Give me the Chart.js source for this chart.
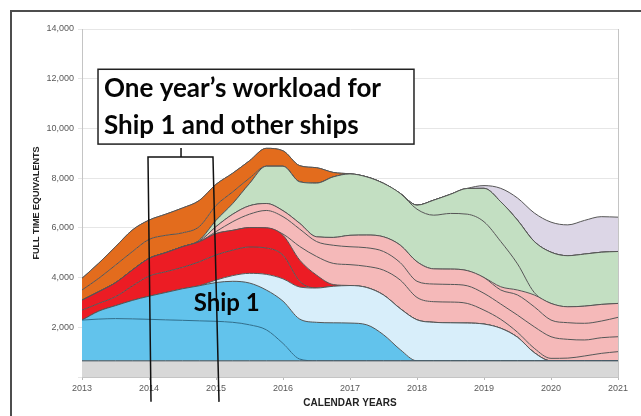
<!DOCTYPE html>
<html>
<head>
<meta charset="utf-8">
<title>Full time equivalents by calendar year</title>
<script src="https://cdn.jsdelivr.net/npm/chart.js@4.4.1/dist/chart.umd.min.js"></script>
<style>
  html, body { margin: 0; padding: 0; background: #fff; }
  #wrap { width: 641px; height: 416px; }
</style>
</head>
<body>
<div id="wrap"><canvas id="fteChart" width="641" height="416"></canvas></div>
<script>
// quarter-year sample points
const years = [2013, 2013.25, 2013.5, 2013.75, 2014, 2014.25, 2014.5, 2014.75, 2015, 2015.25, 2015.5, 2015.75,
    2016, 2016.25, 2016.5, 2016.75, 2017, 2017.25, 2017.5, 2017.75, 2018, 2018.25, 2018.5, 2018.75,
    2019, 2019.25, 2019.5, 2019.75, 2020, 2020.25, 2020.5, 2020.75, 2021];

const yTicks = [0, 2000, 4000, 6000, 8000, 10000, 12000, 14000];

// each array is the top edge of a band (cumulative FTE)
const greyTop = [650, 650, 650, 650, 650, 650, 650, 650, 650, 650, 650, 650, 650, 650, 650, 650, 650,
    650, 650, 650, 650, 650, 650, 650, 650, 650, 650, 650, 650, 650, 650, 650, 650];
const blueLine = [2290, 2330, 2350, 2340, 2320, 2300, 2280, 2260, 2240, 2200, 2100, 1900, 1350, 720, 650, 650, 650,
    650, 650, 650, 650, 650, 650, 650, 650, 650, 650, 650, 650, 650, 650, 650, 650];
const blueTop = [2290, 2650, 2870, 3080, 3250, 3400, 3550, 3670, 3800, 3850, 3780, 3500, 3050, 2330, 2200, 2180, 2170,
    2100, 1700, 1100, 650, 650, 650, 650, 650, 650, 650, 650, 650, 650, 650, 650, 650];
const lightBlueTop = [2290, 2650, 2870, 3080, 3250, 3400, 3550, 3670, 3900, 4080, 4170, 4130, 3950, 3620, 3580, 3650, 3680,
    3600, 3300, 2750, 2300, 2200, 2180, 2170, 2130, 1960, 1600, 980, 650, 650, 650, 650, 650];
const redMid = [2690, 2960, 3230, 3660, 4060, 4235, 4410, 4635, 4910, 5105, 5230, 5190, 4900, 3850, 3580, 3650, 3680,
    3600, 3300, 2750, 2300, 2200, 2180, 2170, 2130, 1960, 1600, 980, 650, 650, 650, 650, 650];
const redTop = [3090, 3430, 3790, 4300, 4770, 5000, 5240, 5440, 5770, 5900, 6010, 6000, 5700, 4700, 4100, 3720, 3680,
    3600, 3300, 2750, 2300, 2200, 2180, 2170, 2130, 1960, 1600, 980, 650, 650, 650, 650, 650];
const pinkLine1 = [3090, 3430, 3790, 4300, 4770, 5000, 5240, 5440, 5770, 5900, 6010, 6000, 5750, 5250, 4850, 4570, 4520,
    4450, 4300, 3900, 3200, 3030, 3015, 2960, 2690, 2320, 1800, 1155, 750, 760, 845, 950, 1020];
const pinkLine2 = [3090, 3430, 3790, 4300, 4770, 5000, 5240, 5440, 5850, 6250, 6550, 6700, 6450, 5950, 5450, 5300, 5240,
    5200, 5050, 4600, 3850, 3740, 3725, 3670, 3365, 2935, 2490, 2020, 1620, 1515, 1490, 1580, 1620];
const pinkLine3 = [3090, 3430, 3790, 4300, 4770, 5000, 5240, 5460, 6050, 6550, 6890, 6980, 6690, 6180, 5640, 5615, 5700,
    5710, 5640, 5305, 4635, 4350, 4340, 4280, 4000, 3500, 3300, 2825, 2290, 2185, 2160, 2250, 2400];
const pinkTop = [3090, 3430, 3790, 4300, 4770, 5000, 5240, 5460, 6050, 6550, 6890, 6980, 6690, 6180, 5640, 5615, 5700,
    5710, 5640, 5305, 4635, 4350, 4340, 4280, 4000, 3630, 3500, 3300, 2960, 2825, 2850, 2920, 2960];
const greenMid = [3090, 3430, 3790, 4300, 4770, 5000, 5240, 5500, 6300, 6980, 7785, 8480, 8480, 7850, 7800, 8050, 8170,
    8050, 7790, 7385, 6750, 6510, 6580, 6550, 6245, 5450, 4550, 3400, 2960, 2825, 2850, 2920, 2960];
const greenTop = [3090, 3430, 3790, 4300, 4770, 5000, 5240, 5500, 6300, 6980, 7785, 8480, 8480, 7850, 7800, 8050, 8170,
    8050, 7790, 7385, 6914, 7115, 7350, 7585, 7590, 7050, 6310, 5450, 5020, 4880, 4945, 5020, 5050];
const orangeMid = [3500, 3970, 4500, 5040, 5535, 5700, 5800, 6050, 6900, 7450, 8000, 8480, 8480, 7850, 7800, 8050, 8170,
    8050, 7790, 7385, 6914, 7115, 7350, 7585, 7590, 7050, 6310, 5450, 5020, 4880, 4945, 5020, 5050];
const orangeTop = [3970, 4580, 5240, 5910, 6310, 6550, 6800, 7100, 7750, 8200, 8700, 9200, 9100, 8500, 8420, 8230, 8170,
    8050, 7790, 7385, 6914, 7115, 7350, 7585, 7590, 7050, 6310, 5450, 5020, 4880, 4945, 5020, 5050];
const purpleTop = [3970, 4580, 5240, 5910, 6310, 6550, 6800, 7100, 7750, 8200, 8700, 9200, 9100, 8500, 8420, 8230, 8170,
    8050, 7790, 7385, 6914, 7115, 7350, 7585, 7700, 7590, 7200, 6600, 6230, 6120, 6300, 6450, 6430];

const GREY = '#d8d8d8';
const BLUE = '#62c3ec';
const LIGHT_BLUE = '#d8eefa';
const RED = '#ec1c24';
const PINK = '#f5b9b9';
const GREEN = '#c3dfc2';
const ORANGE = '#e36c1d';
const PURPLE = '#dcd6e6';
const EDGE = '#555555';

function band(data, colour, fill, edge) {
    return {
        data: data,
        backgroundColor: colour,
        borderColor: edge || EDGE,
        borderWidth: 1,
        fill: fill || '-1',
        pointRadius: 0,
        cubicInterpolationMode: 'monotone'
    };
}

const notes = {
    id: 'notes',
    beforeDraw(chart) {
        const ctx = chart.ctx;
        ctx.save();
        ctx.strokeStyle = '#4d4d4d';
        ctx.lineWidth = 2;
        ctx.beginPath();
        ctx.moveTo(11, 416);
        ctx.lineTo(11, 11);
        ctx.lineTo(641, 11);
        ctx.stroke();
        ctx.restore();
    },
    afterDraw(chart) {
        const {ctx, chartArea, scales: {x, y}} = chart;
        ctx.save();

        // right edge of the plot
        ctx.strokeStyle = '#c4c4c4';
        ctx.lineWidth = 1;
        ctx.beginPath();
        ctx.moveTo(chartArea.right + 0.5, chartArea.top);
        ctx.lineTo(chartArea.right + 0.5, chartArea.bottom);
        ctx.stroke();

        // one-year bracket
        ctx.strokeStyle = '#111';
        ctx.lineWidth = 1.5;
        const bracketY = y.getPixelForValue(8850);
        const lowY = y.getPixelForValue(-1000);
        ctx.beginPath();
        ctx.moveTo(x.getPixelForValue(2014.03), lowY);
        ctx.lineTo(x.getPixelForValue(2013.985), bracketY);
        ctx.lineTo(x.getPixelForValue(2014.955), bracketY);
        ctx.lineTo(x.getPixelForValue(2015.045), lowY);
        ctx.moveTo(x.getPixelForValue(2014.478), bracketY);
        ctx.lineTo(x.getPixelForValue(2014.478), y.getPixelForValue(9210));
        ctx.stroke();

        // callout box
        const bx = x.getPixelForValue(2013.239);
        const by = y.getPixelForValue(12380);
        const bw = x.getPixelForValue(2017.955) - bx;
        const bh = y.getPixelForValue(9370) - by;
        ctx.fillStyle = '#fff';
        ctx.fillRect(bx, by, bw, bh);
        ctx.strokeStyle = '#222';
        ctx.lineWidth = 1.5;
        ctx.strokeRect(bx, by, bw, bh);

        ctx.fillStyle = '#050505';
        ctx.font = 'bold 26px Lato';
        ctx.textAlign = 'left';
        ctx.textBaseline = 'middle';
        ctx.fillText('One year\u2019s workload for', bx + 6, by + 19);
        ctx.fillText('Ship 1 and other ships', bx + 6, by + 56);

        ctx.font = 'bold 24px Lato';
        ctx.textAlign = 'center';
        ctx.fillText('Ship 1', x.getPixelForValue(2015.16), y.getPixelForValue(2975));
        ctx.restore();
    }
};

const ctx = document.getElementById('fteChart').getContext('2d');

new Chart(ctx, {
    type: 'line',
    data: {
        labels: years,
        datasets: [
            band(greyTop, GREY, 'origin', '#3d4a52'),
            band(blueLine, BLUE, '-1', '#2c6d8c'),
            band(blueTop, BLUE),
            band(lightBlueTop, LIGHT_BLUE),
            band(redMid, RED),
            band(redTop, RED),
            band(pinkLine1, PINK),
            band(pinkLine2, PINK),
            band(pinkLine3, PINK),
            band(pinkTop, PINK),
            band(greenMid, GREEN),
            band(greenTop, GREEN),
            band(orangeMid, ORANGE),
            band(orangeTop, ORANGE),
            band(purpleTop, PURPLE)
        ]
    },
    options: {
        responsive: false,
        animation: false,
        layout: {
            padding: {left: 0, right: 23, top: 29, bottom: 0}
        },
        plugins: {
            legend: {display: false},
            tooltip: {enabled: false}
        },
        scales: {
            x: {
                type: 'linear',
                min: 2013,
                max: 2021,
                afterFit: scale => { scale.height = 39; },
                ticks: {
                    stepSize: 1,
                    autoSkip: false,
                    maxRotation: 0,
                    padding: 3,
                    color: '#595959',
                    font: {family: 'Liberation Sans', size: 9},
                    callback: v => String(v)
                },
                grid: {drawOnChartArea: false, tickLength: 3, color: '#b8b8b8'},
                border: {color: '#c4c4c4'},
                title: {
                    display: true,
                    text: 'CALENDAR YEARS',
                    color: '#222',
                    font: {family: 'Liberation Sans', size: 10, weight: 'bold'},
                    padding: {top: 0, bottom: 7}
                }
            },
            y: {
                min: 0,
                max: 14000,
                afterFit: scale => { scale.width = 82; },
                afterBuildTicks: scale => { scale.ticks = yTicks.map(v => ({value: v})); },
                ticks: {
                    padding: 4,
                    color: '#595959',
                    font: {family: 'Liberation Sans', size: 9},
                    callback: v => v === 0 ? '' : v.toLocaleString('en-US')
                },
                grid: {color: '#e6e6e6', tickLength: 4},
                border: {color: '#c4c4c4'},
                title: {
                    display: true,
                    text: 'FULL TIME EQUIVALENTS',
                    color: '#222',
                    font: {family: 'Liberation Sans', size: 9, weight: 'bold'},
                    padding: {top: 31.6, bottom: 0}
                }
            }
        }
    },
    plugins: [notes]
});
</script>
</body>
</html>
